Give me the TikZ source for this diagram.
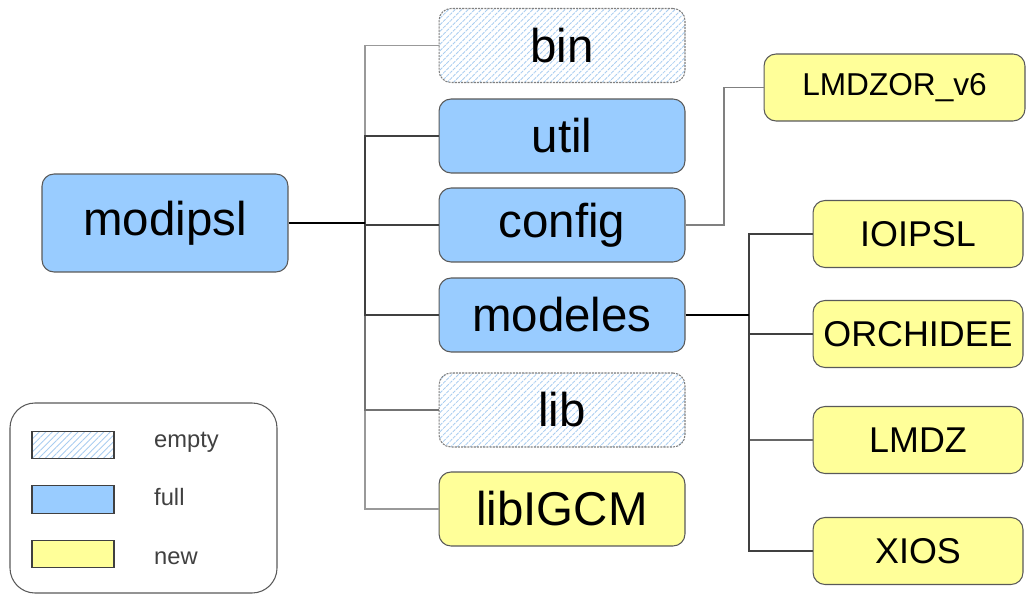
\documentclass[tikz,border=0pt]{standalone}
\usepackage{fontspec}
\setmainfont{Liberation Sans}
\usepackage{xcolor}
\usepackage{tikz}
\usetikzlibrary{calc}
\usetikzlibrary{patterns.meta}

\definecolor{fullblue}{HTML}{99CCFF}
\definecolor{newyellow}{HTML}{FFFF99}
\definecolor{hatchblue}{HTML}{A9CDF0}

\tikzset{
  box/.style={draw=black!65,line width=0.6pt,rounded corners=0.24cm,inner sep=0pt,minimum width=4.92cm,minimum height=1.48cm,font=\fontsize{27}{31}\selectfont},
  fullbox/.style={box,fill=fullblue},
  newbox/.style={box,fill=newyellow},
  emptybox/.style={box,draw=black!50,dash pattern=on 1.2pt off 0.6pt,pattern={Lines[angle=45,distance=2.6pt,line width=0.5pt]},pattern color=hatchblue},
  subbox/.style={newbox,minimum width=4.2cm,minimum height=1.34cm,font=\fontsize{20.4}{24}\selectfont},
  link/.style={draw=black!75,line width=0.6pt},
  lightlink/.style={draw=black!40,line width=0.6pt},
  mainlink/.style={draw=black,line width=1.2pt},
  swatch/.style={draw=black!75,line width=0.6pt,inner sep=0pt,minimum width=1.64cm,minimum height=0.55cm},
  legtext/.style={anchor=west,text=black!75,font=\fontsize{13.5}{16}\selectfont}
}

\begin{document}
\begin{tikzpicture}[x=0.02cm,y=-0.02cm]

\useasboundingbox (0,0) rectangle (1026,594);							% Bildgroesse

\node[fullbox,minimum height=1.96cm] (modipsl) at (165,223) {modipsl};		% Wurzel

\node[emptybox] (bin) at (562,45.5) {bin};								% erste Ebene
\node[fullbox] (util) at (562,136) {util};
\node[fullbox] (config) at (562,225) {config};
\node[fullbox] (modeles) at (562,315) {modeles};
\node[emptybox] (lib) at (562,410) {lib};
\node[newbox] (libIGCM) at (562,509) {libIGCM};

\node[subbox,minimum width=5.22cm,font=\fontsize{18}{22}\selectfont] (lmdzor) at (894.5,87.5) {LMDZOR\_v6};	% unter config

\node[subbox] (ioipsl) at (918,234) {IOIPSL};							% unter modeles
\node[subbox] (orchidee) at (918,334) {ORCHIDEE};
\node[subbox] (lmdz) at (918,440) {LMDZ};
\node[subbox] (xios) at (918,551) {XIOS};

\coordinate (trunk) at (365,223);										% Verzweigung modipsl
\coordinate (cfgbend) at (724,225);										% Knick config
\coordinate (subtrunk) at (749,315);									% Verzweigung modeles

\draw[lightlink] (trunk) |- (bin.west);									% helle Linien zuerst
\draw[lightlink] (trunk) |- (libIGCM.west);
\draw[link,draw=black!55] (trunk) |- (lib.west);
\draw[link] (trunk) |- (util.west);
\draw[link] (trunk) |- (config.west);
\draw[link] (trunk) |- (modeles.west);
\draw[mainlink] (modipsl.east) -- (trunk);

\draw[lightlink,draw=black!50] (config.east) -- (cfgbend) |- (lmdzor.west);	% config -> LMDZOR_v6

\draw[link] (subtrunk) |- (ioipsl.west);								% modeles -> Modelle
\draw[link] (subtrunk) |- (orchidee.west);
\draw[link,draw=black!60] (subtrunk) |- (lmdz.west);
\draw[link] (subtrunk) |- (xios.west);
\draw[mainlink] (modeles.east) -- (subtrunk);

\draw[draw=black!65,line width=0.6pt,rounded corners=0.5cm] (10,403) rectangle (277,593);	% Legende
\node[swatch,pattern={Lines[angle=45,distance=2.6pt,line width=0.5pt]},pattern color=hatchblue] (swempty) at (73,445) {};
\node[swatch,fill=fullblue] (swfull) at (73,499.5) {};
\node[swatch,fill=newyellow] (swnew) at (73,554) {};
\node[legtext] (legempty) at (148,442) {empty};
\node[legtext] (legfull) at (148,497) {full};
\node[legtext] (legnew) at (148,558) {new};

\end{tikzpicture}
\end{document}
